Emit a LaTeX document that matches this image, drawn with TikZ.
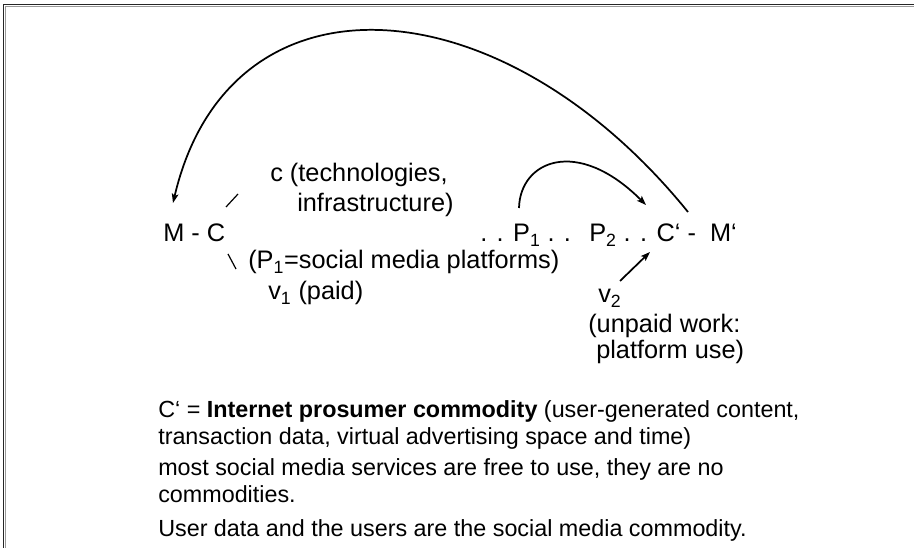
\documentclass[tikz,border=0pt]{standalone}
\usepackage{fontspec}
\setmainfont{Liberation Sans}
\usetikzlibrary{arrows.meta}
\begin{document}
\begin{tikzpicture}[x=0.75pt,y=-0.75pt]
\tikzstyle{formula}=[anchor=base west, inner sep=0pt, font=\fontsize{19}{22}\selectfont]
\tikzstyle{note}=[anchor=base west, inner sep=0pt, font=\fontsize{17.5}{21}\selectfont]
\tikzstyle{arc}=[line width=1.3pt, -{Stealth[length=7pt,width=5pt,inset=1.5pt]}]
\tikzstyle{tick}=[line width=0.9pt]
\useasboundingbox (0,0) rectangle (914,548);
\fill[white] (0,0) rectangle (914,548);
\draw[black!85, line width=1.2pt] (3.5,548) -- (3.5,4.5) -- (914,4.5);
\draw[black!40, line width=0.8pt] (5.3,548) -- (5.3,6.3) -- (914,6.3);

\node [formula] (mc) at (163, 242) {M - C};
\node [formula] (tech) at (270, 182) {c (technologies,};
\node [formula] (infra) at (297, 212) {infrastructure)};
\node [formula] (plat) at (248, 269) {(P\textsubscript{1}=social media platforms)};
\node [formula] (vone) at (268, 300) {v\textsubscript{1} (paid)};
\node [formula] (pone) at (480, 242) {. . P\textsubscript{1} . .};
\node [formula] (ptwo) at (589, 242) {P\textsubscript{2} . . C‘ -\ \ M‘};
\node [formula] (vtwo) at (598, 303) {v\textsubscript{2}};
\node [formula] (unpaid) at (588, 333) {(unpaid work:};
\node [formula] (use) at (596, 359) {platform use)};

\node [note] (line1) at (158, 418) {C‘ = \textbf{Internet prosumer commodity} (user-generated content,};
\node [note] (line2) at (158, 445) {transaction data, virtual advertising space and time)};
\node [note] (line3) at (158, 476) {most social media services are free to use, they are no};
\node [note] (line4) at (158, 503) {commodities.};
\node [note] (line5) at (158, 537) {User data and the users are the social media commodity.};

\coordinate (mcup) at (173, 203);
\coordinate (mprime) at (688, 212);
\coordinate (ponetop) at (519, 208);
\coordinate (ctop) at (646, 205);
\coordinate (cbot) at (650, 252);
\coordinate (vtop) at (620, 281);
\coordinate (upa) at (226, 207);
\coordinate (upb) at (238, 194);
\coordinate (dna) at (228, 254);
\coordinate (dnb) at (236, 269);

\draw [arc] (mprime) .. controls (500, -20) and (229, -36) .. (mcup);
\draw [arc] (ponetop) .. controls (520, 161) and (577, 136) .. (ctop);
\draw [arc] (vtop) -- (cbot);
\draw [tick] (upa) -- (upb);
\draw [tick] (dna) -- (dnb);
\end{tikzpicture}
\end{document}
